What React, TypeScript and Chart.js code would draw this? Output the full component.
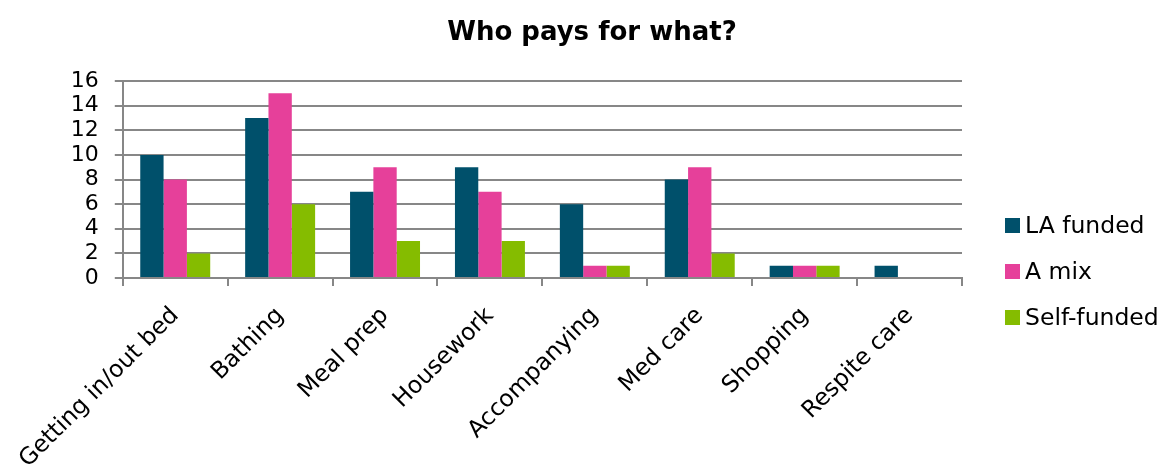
import React, { useEffect, useRef } from "react";
import { Chart, registerables } from "chart.js";

Chart.register(...registerables);

const categories = [
  "Getting in/out bed",
  "Bathing",
  "Meal prep",
  "Housework",
  "Accompanying",
  "Med care",
  "Shopping",
  "Respite care",
];
const laFunded = [10, 13, 7, 9, 6, 8, 1, 1];
const aMix = [8, 15, 9, 7, 1, 9, 1, 0];
const selfFunded = [2, 6, 3, 3, 1, 2, 1, 0];
const seriesNames = ["LA funded", "A mix", "Self-funded"];
const seriesColors = ["#00506B", "#E6409A", "#85BC00"];
const chartTitle = "Who pays for what?";

const FONT = "'DejaVu Sans', Tahoma, sans-serif";
const GRID = "#878787";

const overlay = {
  id: "overlay",
  afterDraw(chart: any) {
    const ctx = chart.ctx as CanvasRenderingContext2D;
    ctx.save();
    ctx.fillStyle = "#000";
    ctx.font = `bold 26px ${FONT}`;
    ctx.textAlign = "center";
    ctx.textBaseline = "alphabetic";
    ctx.fillText(chartTitle, 592, 40);

    ctx.font = `23.5px ${FONT}`;
    ctx.textAlign = "left";
    ctx.textBaseline = "middle";
    chart.data.datasets.forEach((ds: any, i: number) => {
      const y = 225.5 + i * 46;
      ctx.fillStyle = ds.backgroundColor;
      ctx.fillRect(1005, y - 7.5, 15, 15);
      ctx.fillStyle = "#000";
      ctx.fillText(ds.label, 1025, y + 1);
    });
    ctx.restore();
  },
};

export default function App() {
  const ref = useRef<HTMLCanvasElement | null>(null);
  useEffect(() => {
    if (!ref.current) return;
    const chart = new Chart(ref.current, {
      type: "bar",
      data: {
        labels: categories,
        datasets: [laFunded, aMix, selfFunded].map((d, i) => ({
          label: seriesNames[i],
          data: d,
          backgroundColor: seriesColors[i],
        })),
      },
      plugins: [overlay],
      options: {
        animation: false,
        responsive: false,
        maintainAspectRatio: false,
        layout: { padding: { top: 81, right: 203, left: 0, bottom: 0 } },
        datasets: {
          bar: { categoryPercentage: 0.667, barPercentage: 1 },
        },
        plugins: {
          title: { display: false },
          legend: { display: false },
          tooltip: { enabled: false },
        },
        scales: {
          x: {
            afterFit(scale: any) {
              scale.height = 187;
            },
            grid: {
              display: true,
              drawOnChartArea: false,
              drawTicks: true,
              tickLength: 8,
              offset: true,
              color: GRID,
              lineWidth: 2,
            },
            border: { color: GRID, width: 2 },
            ticks: {
              color: "#000",
              font: { family: FONT, size: 23.5 },
              maxRotation: 45,
              minRotation: 45,
              padding: 16,
              autoSkip: false,
            },
          },
          y: {
            afterFit(scale: any) {
              scale.width = 121;
            },
            min: 0,
            max: 16,
            ticks: {
              stepSize: 2,
              autoSkip: false,
              color: "#000",
              font: { family: FONT, size: 22, lineHeight: 1 },
              padding: 16,
            },
            grid: { color: GRID, lineWidth: 2, tickLength: 8 },
            border: { color: GRID, width: 2 },
          },
        },
      },
    });
    return () => chart.destroy();
  }, []);
  return (
    <div style={{ position: "absolute", left: 0, top: 0, width: 1165, height: 465 }}>
      <canvas ref={ref} width={1165} height={465} />
    </div>
  );
}
